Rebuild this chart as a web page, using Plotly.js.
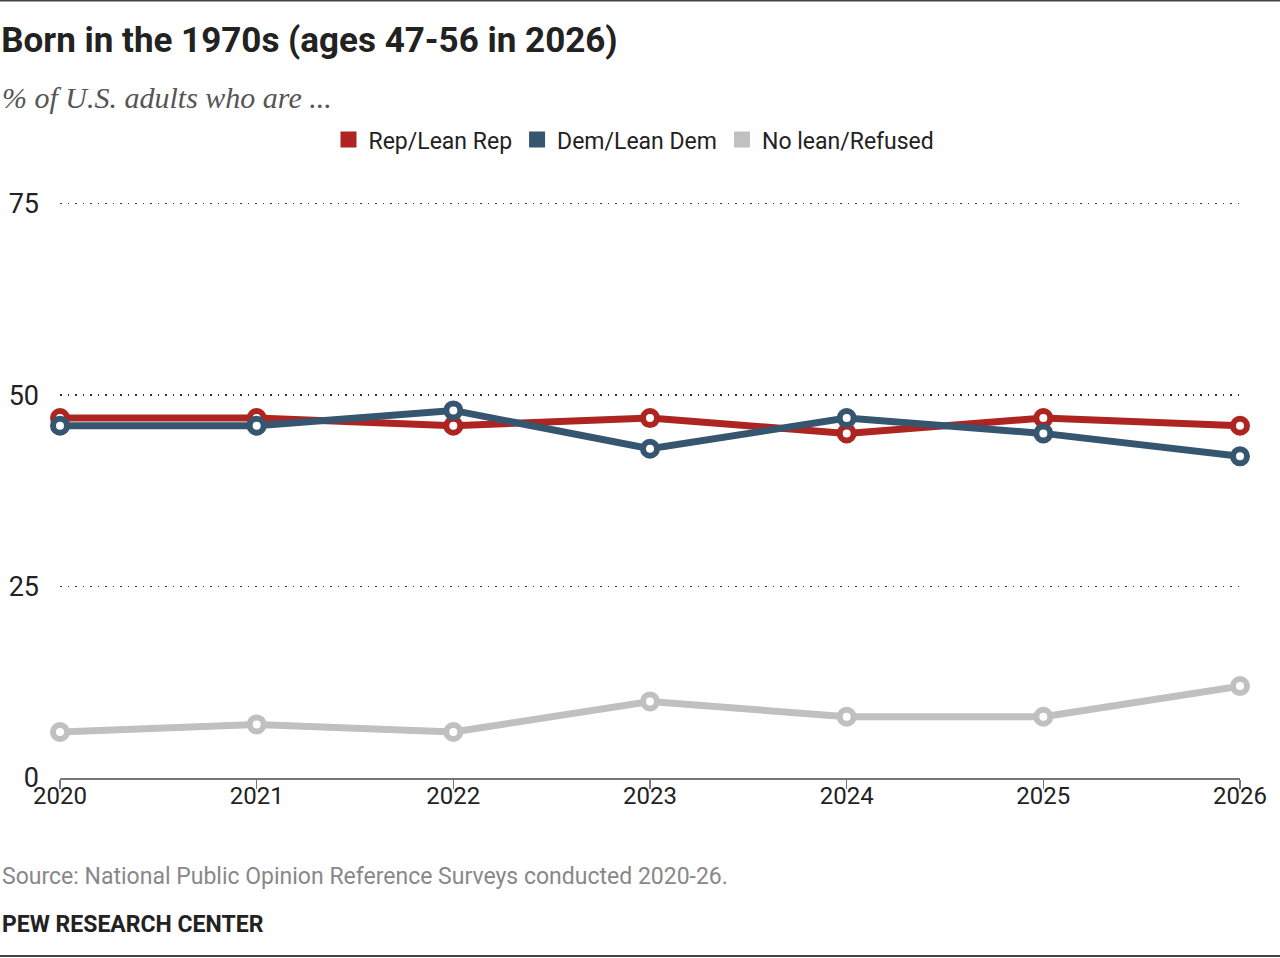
<!DOCTYPE html>
<html>
<head>
<meta charset="utf-8">
<script src="https://cdn.plot.ly/plotly-3.0.1.min.js"></script>
<style>
html,body{margin:0;padding:0;background:#fff;}
#chart{width:1280px;height:958px;}
</style>
</head>
<body>
<div id="chart"></div>
<script>
const years = [2020, 2021, 2022, 2023, 2024, 2025, 2026];
const seriesNames = ["Rep/Lean Rep", "Dem/Lean Dem", "No lean/Refused"];
const repValues = [47, 47, 46, 47, 45, 47, 46];
const demValues = [46, 46, 48, 43, 47, 45, 42];
const noLeanValues = [6, 7, 6, 10, 8, 8, 12];
const yTicks = [0, 25, 50, 75];
const colors = ["#ae2420", "#36566f", "#c0c0c0"];

const FONT = "Roboto, 'Liberation Sans', sans-serif";

function lineTrace(vals, i) {
  return {
    type: "scatter", mode: "lines+markers",
    x: years, y: vals, name: seriesNames[i], showlegend: false,
    cliponaxis: false, hoverinfo: "x+y",
    line: {color: colors[i], width: 7},
    marker: {symbol: "circle", size: 14, color: "#fff", line: {color: colors[i], width: 6}}
  };
}
function legendTrace(i) {
  return {
    type: "scatter", mode: "markers", x: [null], y: [null],
    name: seriesNames[i], showlegend: true,
    marker: {symbol: "square", size: 22, color: colors[i]}
  };
}

const data = [
  lineTrace(noLeanValues, 2),
  lineTrace(repValues, 0),
  lineTrace(demValues, 1),
  legendTrace(0), legendTrace(1), legendTrace(2)
];

const W = 1280, H = 958, L = 60, R = 40, B = 180;
const yMax = 76;
const pxPerUnit = 574 / 75;
const T = H - B - yMax * pxPerUnit;
const pw = W - L - R, ph = H - T - B;
const px = x => (x - L) / pw;
const py = y => (H - B - y) / ph;

const layout = {
  width: W, height: H,
  margin: {l: L, r: R, t: T, b: B, pad: 0},
  paper_bgcolor: "#fff", plot_bgcolor: "#fff",
  font: {family: FONT, color: "#222"},
  title: {
    text: "<b>Born in the 1970s (ages 47-56 in 2026)</b>",
    font: {family: FONT, size: 35, color: "#222"},
    xref: "container", yref: "container", x: 0.001, xanchor: "left",
    y: 1 - 40 / H, yanchor: "middle"
  },
  xaxis: {
    range: [2020, 2026], tickvals: years, ticktext: years.map(String),
    showgrid: false, zeroline: false,
    showline: true, linecolor: "#777", linewidth: 2,
    ticks: "outside", ticklen: 9, tickwidth: 1.5, tickcolor: "#777",
    ticklabelstandoff: -14,
    tickfont: {family: FONT, size: 24, color: "#222"},
    fixedrange: true
  },
  yaxis: {
    range: [0, yMax], tickvals: yTicks, ticktext: yTicks.map(String),
    showgrid: true, gridcolor: "#333", gridwidth: 1.5, griddash: "1.5px,6px",
    zeroline: false, showline: false, ticks: "",
    ticklabelstandoff: 20,
    tickfont: {family: FONT, size: 27, color: "#222"},
    fixedrange: true
  },
  legend: {
    orientation: "h", x: px(634), xanchor: "center", y: py(140), yanchor: "middle",
    font: {family: FONT, size: 23, color: "#222"},
    itemclick: false, itemdoubleclick: false,
    traceorder: "normal", tracegroupgap: 0
  },
  annotations: [
    {
      text: "<i>% of U.S. adults who are ...</i>", xref: "paper", yref: "paper",
      x: px(0), y: py(98), xanchor: "left", yanchor: "middle", showarrow: false,
      font: {family: "'Liberation Serif', 'DejaVu Serif', serif", size: 30, color: "#555"}
    },
    {
      text: "Source: National Public Opinion Reference Surveys conducted 2020-26.",
      xref: "paper", yref: "paper", x: px(0), y: py(876), xanchor: "left", yanchor: "middle",
      showarrow: false, font: {family: FONT, size: 23, color: "#888"}
    },
    {
      text: "<b>PEW RESEARCH CENTER</b>",
      xref: "paper", yref: "paper", x: px(0), y: py(924), xanchor: "left", yanchor: "middle",
      showarrow: false, font: {family: FONT, size: 23, color: "#222"}
    }
  ],
  shapes: [
    {type: "line", xref: "paper", yref: "paper", x0: px(0), x1: px(W), y0: py(1), y1: py(1),
     line: {color: "#444", width: 2}},
    {type: "line", xref: "paper", yref: "paper", x0: px(0), x1: px(W), y0: py(956), y1: py(956),
     line: {color: "#444", width: 2}}
  ]
};

Plotly.newPlot("chart", data, layout, {displayModeBar: false, staticPlot: true});
</script>
</body>
</html>
